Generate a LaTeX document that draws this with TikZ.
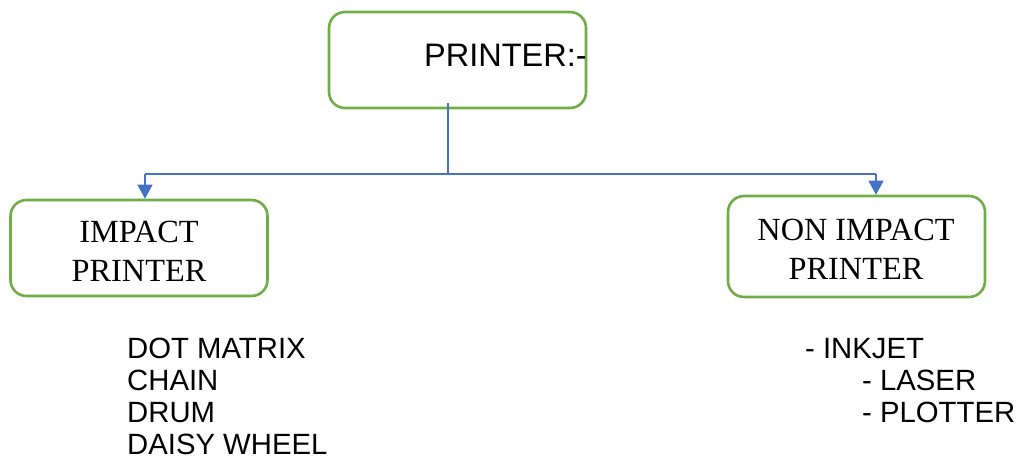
\documentclass[tikz,border=0pt]{standalone}
\usepackage{fontspec}
\setmainfont{Liberation Sans}
\newfontfamily\tnr{Liberation Serif}
\usetikzlibrary{arrows.meta}
\definecolor{boxgreen}{HTML}{70AD47}
\definecolor{linkblue}{HTML}{4472C4}
\begin{document}
\begin{tikzpicture}[x=1pt,y=-1pt,
  box/.style={draw=boxgreen,line width=2.6pt,rounded corners=16pt,fill=white,inner sep=0pt},
  boxtext/.style={anchor=base,inner sep=0pt,font=\tnr\fontsize{32.3}{37}\selectfont},
  listitem/.style={anchor=base west,inner sep=0pt,font=\fontsize{29.3}{29}\selectfont},
  link/.style={draw=linkblue,line width=1.3pt},
  arrowlink/.style={link,-{Triangle[width=15pt,length=14pt]}}]
\useasboundingbox (0,0) rectangle (1016,461);
% boxes
\node[box,minimum width=257pt,minimum height=96pt] (top) at (457.5,60) {};
\node[anchor=base west,inner sep=0pt,font=\fontsize{32.5}{36}\selectfont] (toptext) at (424,66) {PRINTER:-};
\node[box,minimum width=257pt,minimum height=96pt] (imp) at (139,248) {};
\node[boxtext] (imp1) at (139,242) {IMPACT};
\node[boxtext] (imp2) at (139,281) {PRINTER};
\node[box,minimum width=257pt,minimum height=101pt] (nonimp) at (856.5,246.5) {};
\node[boxtext] (non1) at (856,240) {NON IMPACT};
\node[boxtext] (non2) at (856,279) {PRINTER};
% connectors
\coordinate (stem) at (448,103);
\coordinate (junction) at (448,174);
\coordinate (leftend) at (145,174);
\coordinate (rightend) at (876,174);
\draw[link] (stem) -- (junction);
\draw[link] (leftend) -- (rightend);
\draw[arrowlink] (leftend) -- (leftend |- imp.north);
\draw[arrowlink] (rightend) -- (rightend |- nonimp.north);
% lists
\node[listitem] (l1) at (127,358) {DOT MATRIX};
\node[listitem] (l2) at (127,390) {CHAIN};
\node[listitem] (l3) at (127,422) {DRUM};
\node[listitem] (l4) at (127,454) {DAISY WHEEL};
\node[listitem] (r1) at (805,358) {- INKJET};
\node[listitem] (r2) at (862,390) {- LASER};
\node[listitem] (r3) at (862,422) {- PLOTTER};
\end{tikzpicture}
\end{document}
